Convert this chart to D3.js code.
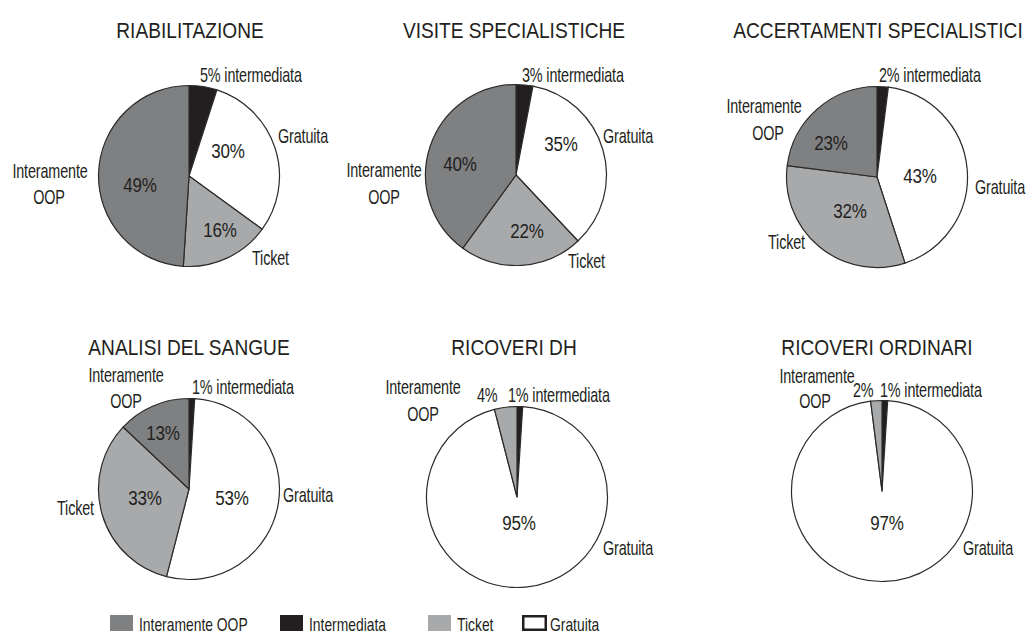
<!DOCTYPE html>
<html>
<head>
<meta charset="utf-8">
<script src="https://d3js.org/d3.v7.min.js"></script>
<style>
  body { margin: 0; background: #fff; }
  text { font-family: "Liberation Sans", Arial, sans-serif; fill: #231f20; }
  .title { font-size: 22px; text-anchor: middle; }
  .lbl { font-size: 20px; letter-spacing: -0.2px; }
  .pct { font-size: 20.5px; text-anchor: middle; letter-spacing: -0.3px; }
  .leg { font-size: 19px; }
</style>
</head>
<body>
<div id="chart"></div>
<script>
// data
var titles = ["RIABILITAZIONE", "VISITE SPECIALISTICHE", "ACCERTAMENTI SPECIALISTICI",
              "ANALISI DEL SANGUE", "RICOVERI DH", "RICOVERI ORDINARI"];
var categories = ["Intermediata", "Gratuita", "Ticket", "Interamente OOP"];
var intermediata = [5, 3, 2, 1, 1, 1];
var gratuita     = [30, 35, 43, 53, 95, 97];
var ticket       = [16, 22, 32, 33, 4, 2];
var oop          = [49, 40, 23, 13, 0, 0];
var legendOrder  = ["Interamente OOP", "Intermediata", "Ticket", "Gratuita"];

var series = [intermediata, gratuita, ticket, oop];

var color = d3.scaleOrdinal()
  .domain(categories)
  .range(["#231f20", "#ffffff", "#a8a9ab", "#7f8082"]);

// layout of each small pie (centre) and its annotations (offsets from centre)
var centers = [[189, 176], [516, 175], [877, 177], [189, 489], [517, 497], [882, 491]];
var titleY = [38, 38, 38, 355, 355, 355];
var titleX = [190, 514, 878, 189, 514, 877];
var radius = 90.5;

var notes = [
  [ {t:"5% intermediata", x:11, y:-94, a:"start"}, {t:"Gratuita", x:89, y:-33, a:"start"},
    {t:"30%", x:39, y:-18, p:1}, {t:"49%", x:-49, y:16, p:1}, {t:"16%", x:31, y:61, p:1},
    {t:"Ticket", x:63, y:89, a:"start"}, {t:"Interamente", x:-139, y:2, a:"middle"}, {t:"OOP", x:-140, y:28, a:"middle"} ],
  [ {t:"3% intermediata", x:6, y:-93, a:"start"}, {t:"Gratuita", x:87, y:-32, a:"start"},
    {t:"35%", x:45, y:-24, p:1}, {t:"40%", x:-56, y:-4, p:1}, {t:"22%", x:11, y:63, p:1},
    {t:"Ticket", x:52, y:93, a:"start"}, {t:"Interamente", x:-132, y:2, a:"middle"}, {t:"OOP", x:-132, y:29, a:"middle"} ],
  [ {t:"2% intermediata", x:2, y:-95, a:"start"}, {t:"Interamente", x:-113, y:-64, a:"middle"},
    {t:"OOP", x:-109, y:-37, a:"middle"}, {t:"23%", x:-46, y:-27, p:1}, {t:"43%", x:43, y:6, p:1},
    {t:"Gratuita", x:98, y:17, a:"start"}, {t:"32%", x:-27, y:41, p:1}, {t:"Ticket", x:-109, y:72, a:"start"} ],
  [ {t:"Interamente", x:-63, y:-107, a:"middle"}, {t:"OOP", x:-63, y:-81, a:"middle"},
    {t:"1% intermediata", x:3, y:-95, a:"start"}, {t:"13%", x:-26, y:-49, p:1}, {t:"33%", x:-44, y:16, p:1},
    {t:"53%", x:43, y:16, p:1}, {t:"Gratuita", x:94, y:13, a:"start"}, {t:"Ticket", x:-132, y:26, a:"start"} ],
  [ {t:"Interamente", x:-94, y:-103, a:"middle"}, {t:"OOP", x:-94, y:-76, a:"middle"},
    {t:"4%", x:-40, y:-95, a:"start"}, {t:"1% intermediata", x:-9, y:-95, a:"start"},
    {t:"95%", x:2, y:33, p:1}, {t:"Gratuita", x:86, y:58, a:"start"} ],
  [ {t:"Interamente", x:-65, y:-108, a:"middle"}, {t:"OOP", x:-67, y:-83, a:"middle"},
    {t:"2%", x:-29, y:-94, a:"start"}, {t:"1% intermediata", x:-2, y:-94, a:"start"},
    {t:"97%", x:5, y:39, p:1}, {t:"Gratuita", x:81, y:64, a:"start"} ]
];

// horizontal squeeze, the original type is a condensed face
var squeeze = {title: 0.87, lbl: 0.72, pct: 0.83, leg: 0.73};
function place(x, y, s) { return "translate(" + x + "," + y + ") scale(" + s + ",1)"; }

var svg = d3.select("#chart").append("svg")
  .attr("width", 1026)
  .attr("height", 635);

var pie = d3.pie().sort(null).value(function(d) { return d.value; });
var arc = d3.arc().innerRadius(0).outerRadius(radius);

titles.forEach(function(title, i) {
  var rows = categories.map(function(c, k) { return {key: c, value: series[k][i]}; })
    .filter(function(d) { return d.value > 0; });

  svg.append("text")
    .attr("class", "title")
    .attr("transform", place(titleX[i], titleY[i], squeeze.title))
    .text(title);

  var g = svg.append("g")
    .attr("transform", "translate(" + centers[i][0] + "," + centers[i][1] + ")");

  g.selectAll("path")
    .data(pie(rows))
    .enter()
    .append("path")
    .attr("d", arc)
    .attr("fill", function(d) { return color(d.data.key); })
    .attr("stroke", "#2b2b2b")
    .attr("stroke-width", 1.2)
    .attr("stroke-linejoin", "round");

  g.selectAll("text")
    .data(notes[i])
    .enter()
    .append("text")
    .attr("class", function(d) { return d.p ? "pct" : "lbl"; })
    .attr("transform", function(d) { return place(d.x, d.y, d.p ? squeeze.pct : squeeze.lbl); })
    .attr("text-anchor", function(d) { return d.a || "middle"; })
    .text(function(d) { return d.t; });
});

// legend
var legX = [110, 280, 428, 522];
var leg = svg.append("g").selectAll("g")
  .data(legendOrder)
  .enter()
  .append("g")
  .attr("transform", function(d, i) { return "translate(" + legX[i] + ",615)"; });

leg.append("rect")
  .attr("x", function(d) { return d == "Gratuita" ? 1.25 : 0; })
  .attr("y", function(d) { return d == "Gratuita" ? 1.25 : 0; })
  .attr("width", function(d) { return d == "Gratuita" ? 22.5 : 23; })
  .attr("height", function(d) { return d == "Gratuita" ? 13.5 : 16; })
  .attr("fill", function(d) { return color(d); })
  .attr("stroke", function(d) { return d == "Gratuita" ? "#231f20" : "none"; })
  .attr("stroke-width", 2.5);

leg.append("text")
  .attr("class", "leg")
  .attr("transform", function(d) { return place(d == "Gratuita" ? 28 : 29, 15.5, squeeze.leg); })
  .text(function(d) { return d; });
</script>
</body>
</html>
